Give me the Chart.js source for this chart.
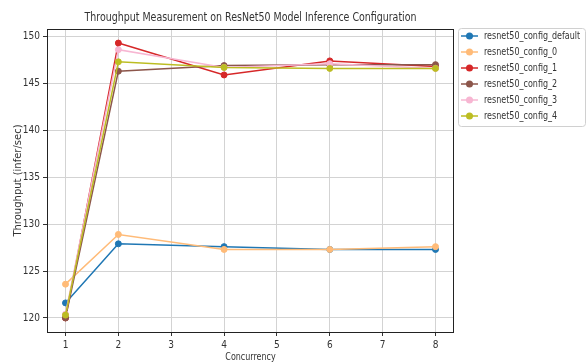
<!DOCTYPE html>
<html>
<head>
<meta charset="utf-8">
<script src="https://cdn.jsdelivr.net/npm/chart.js@4/dist/chart.umd.min.js"></script>
<style>
html,body{margin:0;padding:0;background:#fff;}
#wrap{width:588px;height:363px;position:relative;}
</style>
</head>
<body>
<div id="wrap"><canvas id="c" width="588" height="363"></canvas></div>
<script>
const concurrency = [1, 2, 4, 6, 8];
const seriesNames = ["resnet50_config_default","resnet50_config_0","resnet50_config_1","resnet50_config_2","resnet50_config_3","resnet50_config_4"];
const cfgDefault = [121.6, 127.9, 127.6, 127.3, 127.3];
const cfg0 = [123.6, 128.9, 127.3, 127.3, 127.6];
const cfg1 = [120.0, 149.3, 145.9, 147.4, 146.8];
const cfg2 = [120.0, 146.3, 146.9, 147.0, 147.0];
const cfg3 = [120.4, 148.6, 146.7, 147.1, 146.6];
const cfg4 = [120.3, 147.3, 146.7, 146.6, 146.6];
const seriesValues = [cfgDefault, cfg0, cfg1, cfg2, cfg3, cfg4];
const seriesColors = ["#1f77b4","#ffbb78","#d62728","#8c564b","#f7b6d2","#bcbd22"];
const xTicks = [1, 2, 3, 4, 5, 6, 7, 8];
const yTicks = [120, 125, 130, 135, 140, 145, 150];
const titleText = "Throughput Measurement on ResNet50 Model Inference Configuration";
const xTitle = "Concurrency";
const yTitle = "Throughput (infer/sec)";

const FONT = '"DejaVu Sans Condensed","DejaVu Sans",sans-serif';
const BASEFONT = '"DejaVu Sans",sans-serif';
const SQUEEZE = 0.8;
const n = seriesNames.length;

const datasets = seriesNames.map((name, i) => ({
  label: name,
  data: concurrency.map((x, j) => ({x: x, y: seriesValues[i][j]})),
  borderColor: seriesColors[i],
  backgroundColor: seriesColors[i],
  pointBackgroundColor: seriesColors[i],
  pointBorderColor: seriesColors[i],
  pointRadius: 3,
  pointBorderWidth: 1,
  borderWidth: 1.5,
  tension: 0,
  order: n - 1 - i
}));

function squeezedText(ctx, text, x, y, align, font, sx) {
  ctx.save();
  ctx.font = font;
  ctx.textBaseline = 'middle';
  ctx.textAlign = align;
  ctx.translate(x, y);
  ctx.scale(sx, 1);
  ctx.fillText(text, 0, 0);
  ctx.restore();
}

const framePlugin = {
  id: 'frame',
  afterDraw(chart) {
    const ctx = chart.ctx;
    const a = chart.chartArea;
    ctx.save();
    ctx.strokeStyle = '#222';
    ctx.lineWidth = 1;
    ctx.strokeRect(Math.round(a.left) + 0.5, Math.round(a.top) + 0.5, Math.round(a.right - a.left) - 1, Math.round(a.bottom - a.top));
    ctx.fillStyle = '#333';
    // title: fit to width of 332px centred on the axes
    ctx.font = '12px ' + BASEFONT;
    const tw = ctx.measureText(titleText).width;
    squeezedText(ctx, titleText, (a.left + a.right) / 2, 18, 'center', '12px ' + BASEFONT, 332 / tw);
    // x axis title
    squeezedText(ctx, xTitle, (a.left + a.right) / 2, 357.5, 'center', '10px ' + BASEFONT, SQUEEZE);
    // legend
    const lx = 458.5, ly = 28.5, lw = 127, lh = 98, r = 3;
    ctx.beginPath();
    ctx.moveTo(lx + r, ly);
    ctx.lineTo(lx + lw - r, ly);
    ctx.quadraticCurveTo(lx + lw, ly, lx + lw, ly + r);
    ctx.lineTo(lx + lw, ly + lh - r);
    ctx.quadraticCurveTo(lx + lw, ly + lh, lx + lw - r, ly + lh);
    ctx.lineTo(lx + r, ly + lh);
    ctx.quadraticCurveTo(lx, ly + lh, lx, ly + lh - r);
    ctx.lineTo(lx, ly + r);
    ctx.quadraticCurveTo(lx, ly, lx + r, ly);
    ctx.closePath();
    ctx.fillStyle = 'rgba(255,255,255,0.8)';
    ctx.fill();
    ctx.strokeStyle = '#d0d0d0';
    ctx.stroke();
    chart.data.datasets.forEach((ds, i) => {
      const y = 36 + i * 16;
      ctx.strokeStyle = ds.borderColor;
      ctx.lineWidth = 1.5;
      ctx.beginPath();
      ctx.moveTo(461, y);
      ctx.lineTo(478, y);
      ctx.stroke();
      ctx.fillStyle = ds.borderColor;
      ctx.beginPath();
      ctx.arc(469.5, y, 3.5, 0, Math.PI * 2);
      ctx.fill();
      ctx.fillStyle = '#333';
      squeezedText(ctx, ds.label, 484, y, 'left', '10px ' + BASEFONT, SQUEEZE);
    });
    ctx.restore();
  }
};

new Chart(document.getElementById('c'), {
  type: 'line',
  data: { datasets: datasets },
  options: {
    responsive: false,
    animation: false,
    layout: { padding: { top: 29, right: 134, left: 0, bottom: 0 } },
    plugins: { legend: { display: false }, title: { display: false }, tooltip: { enabled: false } },
    scales: {
      x: {
        type: 'linear',
        min: 0.65, max: 8.35,
        afterBuildTicks: s => { s.ticks = xTicks.map(v => ({value: v})); },
        afterFit: s => { s.height = 31; },
        grid: { color: '#d3d3d3', lineWidth: 1, tickLength: 4, tickColor: '#333' },
        border: { display: false },
        ticks: { color: '#333', font: { family: FONT, size: 10 }, padding: 3, maxRotation: 0, autoSkip: false },
        title: { display: false }
      },
      y: {
        type: 'linear',
        min: 118.5, max: 150.8,
        afterBuildTicks: s => { s.ticks = yTicks.map(v => ({value: v})); },
        afterFit: s => { s.width = 47; },
        grid: { color: '#d3d3d3', lineWidth: 1, tickLength: 4, tickColor: '#333' },
        border: { display: false },
        ticks: { color: '#333', font: { family: FONT, size: 10 }, padding: 3, autoSkip: false },
        title: { display: true, text: yTitle, color: '#333', font: { family: BASEFONT, size: 10 }, padding: { top: 12, bottom: 0 } }
      }
    }
  },
  plugins: [framePlugin]
});
</script>
</body>
</html>
